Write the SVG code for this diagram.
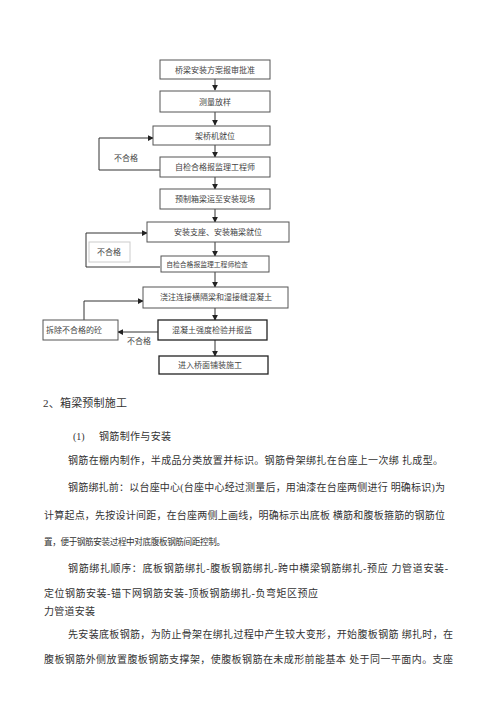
<svg xmlns="http://www.w3.org/2000/svg" width="500" height="707" viewBox="0 0 500 707">
<defs>
<style>
.box{fill:#fff;stroke:#555;stroke-width:1}
.dark{stroke:#222;stroke-width:1.3}
.lbl{fill:none;stroke:#ccc;stroke-width:1}
.t{font-family:"Liberation Serif","Noto Sans CJK SC",serif;font-size:8px;fill:#444;text-anchor:middle}
.s{font-size:6.8px}
.p{font-family:"Liberation Serif","Noto Sans CJK SC",serif;font-size:10px;fill:#333}
.h{font-size:11px}
.ln{fill:none;stroke:#333;stroke-width:1}
</style>
<marker id="a" viewBox="0 0 8 8" refX="7" refY="4" markerWidth="6" markerHeight="6" orient="auto" markerUnits="userSpaceOnUse">
<path d="M0,0 L8,4 L0,8 Z" fill="#222"/>
</marker>
</defs>
<g id="connectors">
<line class="ln" x1="215" y1="79" x2="215" y2="90" marker-end="url(#a)"/>
<line class="ln" x1="215" y1="112" x2="215" y2="125" marker-end="url(#a)"/>
<line class="ln" x1="215" y1="145" x2="215" y2="157" marker-end="url(#a)"/>
<line class="ln" x1="215" y1="177" x2="215" y2="189" marker-end="url(#a)"/>
<line class="ln" x1="215" y1="209" x2="215" y2="222" marker-end="url(#a)"/>
<line class="ln" x1="215" y1="242" x2="215" y2="256" marker-end="url(#a)"/>
<line class="ln" x1="215" y1="272" x2="215" y2="287" marker-end="url(#a)"/>
<line class="ln" x1="215" y1="308" x2="215" y2="320" marker-end="url(#a)"/>
<line class="ln" x1="215" y1="340" x2="215" y2="356" marker-end="url(#a)"/>
<polyline class="ln" points="160,170 99,170 99,138 153,138" marker-end="url(#a)"/>
<polyline class="ln" points="160,267 86,267 86,233 147,233" marker-end="url(#a)"/>
<line class="ln" x1="158" y1="332" x2="118" y2="332" marker-end="url(#a)"/>
<polyline class="ln" points="84,320 84,301 143,301" marker-end="url(#a)"/>
<text class="t" x="126" y="161">不合格</text>
<text class="t" x="139" y="344">不合格</text>
</g>
<g id="n1"><rect class="box" x="160" y="60" width="110" height="19"/><text class="t" x="215" y="72.5">桥梁安装方案报审批准</text></g>
<g id="n2"><rect class="box" x="160" y="91" width="110" height="21"/><text class="t" x="215" y="104.5">测量放样</text></g>
<g id="n3"><rect class="box" x="153" y="126" width="117" height="19"/><text class="t" x="215" y="138.5">架桥机就位</text></g>
<g id="n4"><rect class="box" x="160" y="157" width="110" height="20"/><text class="t" x="215" y="170">自检合格报监理工程师</text></g>
<g id="n5"><rect class="box" x="160" y="189" width="110" height="20"/><text class="t" x="215" y="202">预制箱梁运至安装现场</text></g>
<g id="n6"><rect class="box" x="147" y="222" width="142" height="20"/><text class="t" x="218" y="235">安装支座、安装箱梁就位</text></g>
<g id="n6b"><rect class="lbl" x="89" y="242" width="41" height="20"/><text class="t" x="109" y="255">不合格</text></g>
<g id="n7"><rect class="box" x="161" y="256" width="108" height="16"/><text class="t s" x="207" y="266.5">自检合格报监理工程师检查</text></g>
<g id="n8"><rect class="box" x="143" y="287" width="145" height="21"/><text class="t" x="216" y="300">浇注连接横隔梁和湿接缝混凝土</text></g>
<g id="n9"><rect class="box dark" x="158" y="320" width="109" height="20"/><text class="t" x="212" y="333">混凝土强度检验并报监</text></g>
<g id="n10"><rect class="box" x="43" y="320" width="75" height="20"/><text class="t" x="74" y="333">拆除不合格的砼</text></g>
<g id="n11"><rect class="box dark" x="159" y="356" width="109" height="18"/><text class="t" x="210" y="368">进入桥面铺装施工</text></g>
<g id="body">
<text class="p h" x="43" y="407" textLength="84" lengthAdjust="spacing">2、箱梁预制施工</text>
<text class="p" x="73" y="440">(1)</text>
<text class="p" x="99" y="440" textLength="72" lengthAdjust="spacing">钢筋制作与安装</text>
<text class="p" x="68" y="464" textLength="375" lengthAdjust="spacing">钢筋在棚内制作，半成品分类放置并标识。钢筋骨架绑扎在台座上一次绑 扎成型。</text>
<text class="p" x="68" y="491" textLength="377" lengthAdjust="spacing">钢筋绑扎前：以台座中心(台座中心经过测量后，用油漆在台座两侧进行 明确标识)为</text>
<text class="p" x="44" y="519" textLength="401" lengthAdjust="spacing">计算起点，先按设计间距，在台座两侧上画线，明确标示出底板 横筋和腹板箍筋的钢筋位</text>
<text class="p" x="44" y="545" style="font-size:8.6px" textLength="181" lengthAdjust="spacing">置，便于钢筋安装过程中对底腹板钢筋间距控制。</text>
<text class="p" x="68" y="572" textLength="380" lengthAdjust="spacing">钢筋绑扎顺序：底板钢筋绑扎-腹板钢筋绑扎-跨中横梁钢筋绑扎-预应 力管道安装-</text>
<text class="p" x="44" y="597" textLength="274" lengthAdjust="spacing">定位钢筋安装-锚下网钢筋安装-顶板钢筋绑扎-负弯矩区预应</text>
<text class="p" x="44" y="615" textLength="51" lengthAdjust="spacing">力管道安装</text>
<text class="p" x="68" y="638" textLength="385" lengthAdjust="spacing">先安装底板钢筋，为防止骨架在绑扎过程中产生较大变形，开始腹板钢筋 绑扎时，在</text>
<text class="p" x="44" y="663" textLength="409" lengthAdjust="spacing">腹板钢筋外侧放置腹板钢筋支撑架，使腹板钢筋在未成形前能基本 处于同一平面内。支座</text>
</g>
</svg>
